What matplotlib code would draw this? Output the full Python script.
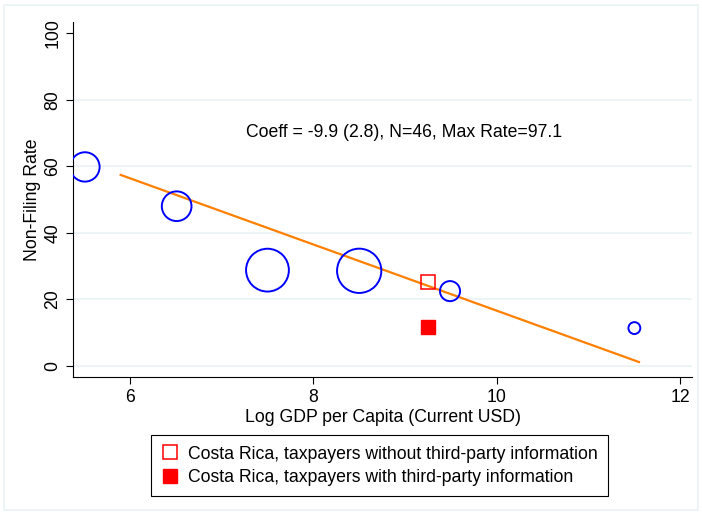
import matplotlib
matplotlib.use("Agg")
import matplotlib.pyplot as plt
from matplotlib.patches import Rectangle
from matplotlib.lines import Line2D

plt.rcParams['font.family'] = ['Liberation Sans', 'DejaVu Sans']

# Datos de países (log PIB per cápita, tasa de no declaración, peso)
log_gdp = [5.51, 6.51, 7.50, 8.50, 9.49, 11.50]
non_filing = [59.8, 48.0, 28.8, 28.6, 22.5, 11.4]
peso = [0.47, 0.48, 1.0, 1.07, 0.22, 0.077]

# Costa Rica
cr_x = [9.25]
cr_sin_info = [25.2]
cr_con_info = [11.7]

# Recta ajustada
fit_x = [5.9, 11.55]
fit_y = [57.4, 1.2]

texto = "Coeff = -9.9 (2.8), N=46, Max Rate=97.1"
yticks = [0, 20, 40, 60, 80, 100]
xticks = [6, 8, 10, 12]

fs = 12.7

fig = plt.figure(figsize=(7.02, 5.14), dpi=100)
ax = fig.add_axes([0.104, 0.2665, 0.882, 0.6905])

for y in yticks[:-1]:
    ax.axhline(y, color='#eaf2f3', lw=1.2, zorder=0)

ax.scatter(log_gdp, non_filing, s=[p * 950 for p in peso], facecolors='none',
           edgecolors='#0000ff', linewidths=1.4, zorder=3)
ax.plot(fit_x, fit_y, color='#ff7f00', lw=1.6, zorder=2)
ax.plot(cr_x, cr_sin_info, 's', ms=9.5, mfc='none', mec='#ff0000', mew=1.1, zorder=4)
ax.plot(cr_x, cr_con_info, 's', ms=9.5, mfc='#ff0000', mec='#ff0000', zorder=4)

ax.text(7.27, 70, texto, fontsize=fs, ha='left', va='center')

ax.set_xlim(5.38, 12.13)
ax.set_ylim(-3.3, 103.3)
ax.set_xticks(xticks)
ax.set_yticks(yticks)
ax.tick_params(labelsize=fs, length=5, width=0.8)
plt.setp(ax.get_yticklabels(), rotation=90, va='center')
for s in ['top', 'right']:
    ax.spines[s].set_visible(False)
ax.set_xlabel("Log GDP per Capita (Current USD)", fontsize=fs, labelpad=2)
ax.set_ylabel("Non-Filing Rate", fontsize=fs, labelpad=2)

handles = [
    Line2D([], [], marker='s', ls='none', ms=9.5, mfc='none', mec='#ff0000', mew=1.1),
    Line2D([], [], marker='s', ls='none', ms=9.5, mfc='#ff0000', mec='#ff0000'),
]
labels = ["Costa Rica, taxpayers without third-party information",
          "Costa Rica, taxpayers with third-party information"]
leg = fig.legend(handles, labels, loc='upper center', bbox_to_anchor=(0.541, 0.1537),
                 bbox_transform=fig.transFigure, fontsize=fs, fancybox=False,
                 edgecolor='black', handlelength=0.9, handletextpad=0.6,
                 borderpad=0.6, labelspacing=0.35, borderaxespad=0, framealpha=1)
leg.get_frame().set_linewidth(0.8)

fig.patches.append(Rectangle((0.006, 0.008), 0.988, 0.982, transform=fig.transFigure,
                             fill=False, edgecolor='#eaf2f3', lw=1.2))

fig.savefig("out.png", dpi=100)
